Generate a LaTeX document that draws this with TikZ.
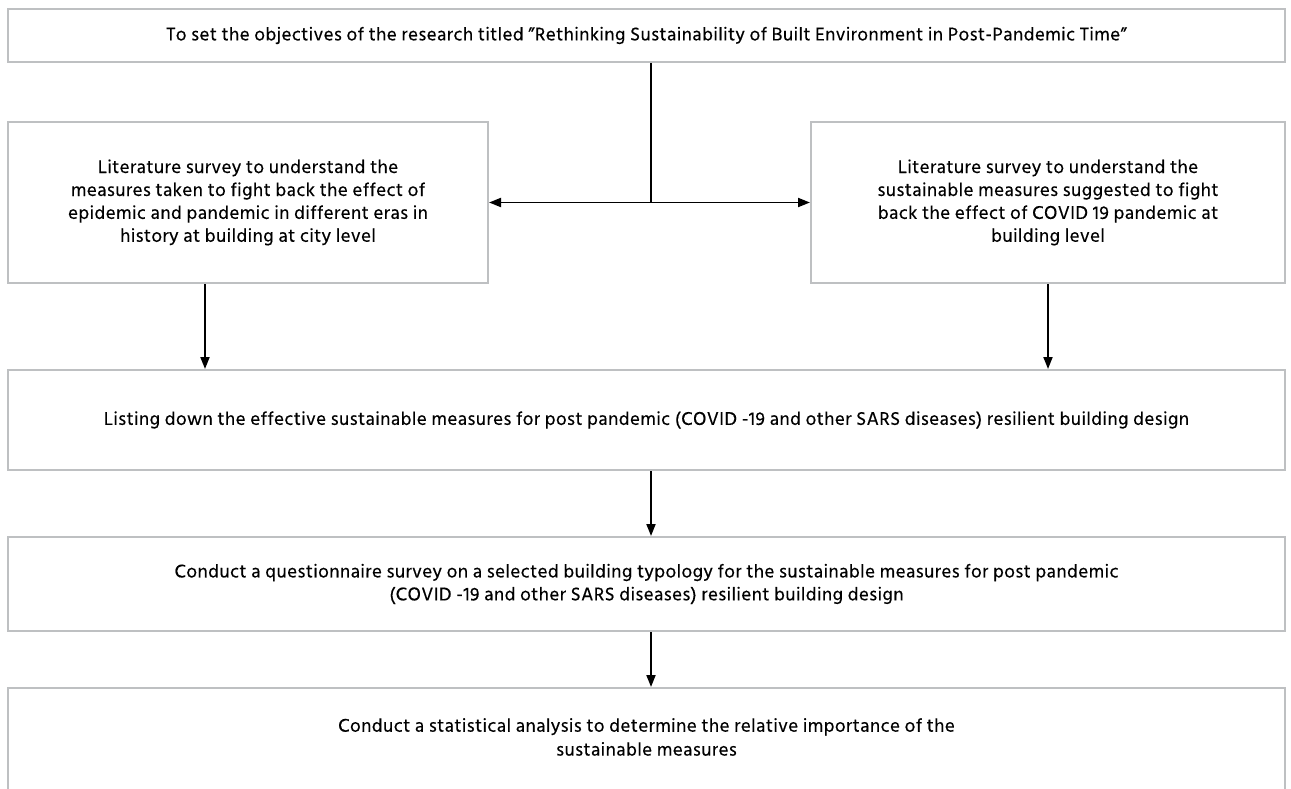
\documentclass[tikz,border=0pt]{standalone}
\usepackage{fontspec}
\setmainfont{Hind Siliguri}[LetterSpace=2.5,FakeBold=0.4]
\usetikzlibrary{arrows.meta}
\begin{document}
\begin{tikzpicture}[x=1bp,y=-1bp,
  box/.style={draw=boxgray,line width=2bp,fill=white,align=center,inner sep=0pt,font=\fontsize{19}{23}\selectfont},
  conn/.style={line width=1.8bp,black},
  arr/.style={conn,-{Triangle[length=12bp,width=9bp]}}]
\definecolor{boxgray}{RGB}{190,192,194}
\clip (0,0) rectangle (1291,789);
\fill[white] (0,0) rectangle (1291,789);
\node[box,minimum width=1277bp,minimum height=53bp] (top) at (646.5,35.5)
  {To set the objectives of the research titled ''Rethinking Sustainability of Built Environment in Post-Pandemic Time''};
\node[box,minimum width=480bp,minimum height=161bp] (left) at (248,202.5)
  {Literature survey to understand the\\measures taken to fight back the effect of\\epidemic and pandemic in different eras in\\history at building at city level};
\node[box,minimum width=474bp,minimum height=161bp] (right) at (1048,202.5)
  {Literature survey to understand the\\sustainable measures suggested to fight\\back the effect of COVID 19 pandemic at\\building level};
\node[box,minimum width=1277bp,minimum height=100bp] (list) at (646.5,420)
  {Listing down the effective sustainable measures for post pandemic (COVID -19 and other SARS diseases) resilient building design};
\node[box,minimum width=1277bp,minimum height=94bp] (quest) at (646.5,584)
  {Conduct a questionnaire survey on a selected building typology for the sustainable measures for post pandemic\\(COVID -19 and other SARS diseases) resilient building design};
\node[box,minimum width=1277bp,minimum height=124bp] (stat) at (646.5,750) {};
\node[align=center,inner sep=0pt,font=\fontsize{19}{24}\selectfont] (stattext) at (646.5,737)
  {Conduct a statistical analysis to determine the relative importance of the\\sustainable measures};
\coordinate (junc) at (651,202.5);
\coordinate (lcol) at (205,0);
\draw[conn] (top.south -| junc) -- (junc);
\draw[arr] (junc) -- (left.east);
\draw[arr] (junc) -- (right.west);
\draw[arr] (left.south -| lcol) -- (list.north -| lcol);
\draw[arr] (right.south) -- (list.north -| right.south);
\draw[arr] (list.south -| junc) -- (quest.north -| junc);
\draw[arr] (quest.south -| junc) -- (stat.north -| junc);
\end{tikzpicture}
\end{document}
